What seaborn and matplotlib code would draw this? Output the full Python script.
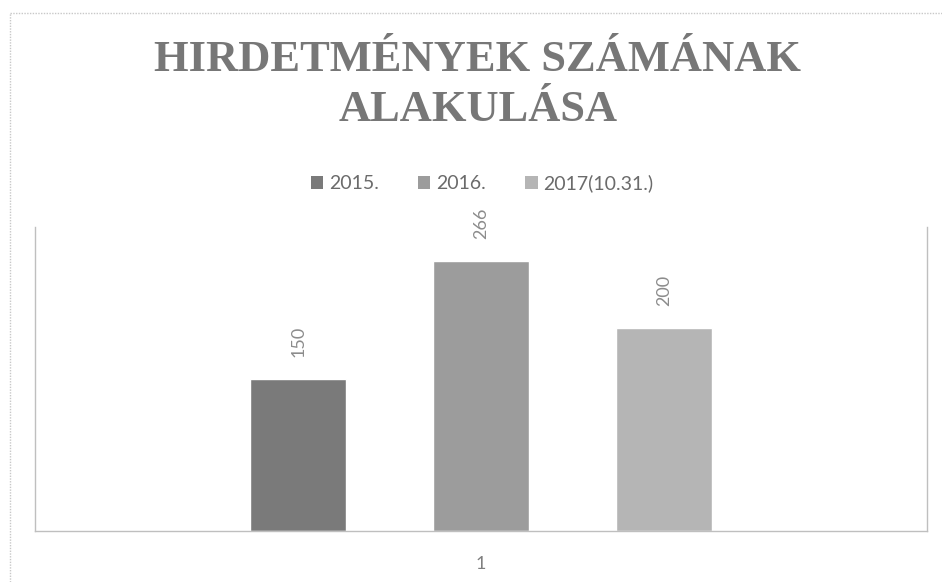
import matplotlib
matplotlib.use("Agg")
import matplotlib.pyplot as plt
import seaborn as sns
import pandas as pd
from matplotlib.lines import Line2D
from matplotlib.patches import Patch

categories = ["1"]
series = ["2015.", "2016.", "2017(10.31.)"]
values = [150, 266, 200]
colors = ["#7a7a7a", "#9c9c9c", "#b5b5b5"]
title_lines = ["HIRDETMÉNYEK SZÁMÁNAK", "ALAKULÁSA"]

sns.set_theme(style="white")
plt.rcParams["font.family"] = ["Lato", "DejaVu Sans"]

df = pd.DataFrame({"cat": categories * len(series), "series": series, "value": values})

fig = plt.figure(figsize=(9.42, 5.82), dpi=100)
ax = fig.add_axes([35/942, 51/582, 892/942, 304/582])

sns.barplot(data=df, x="cat", y="value", hue="series", palette=colors,
            width=0.615, gap=0.475, ax=ax, legend=False, saturation=1)

ax.set_ylim(0, 300)
ax.set_xlim(-0.5, 0.5)
ax.set_xlabel("")
ax.set_ylabel("")
ax.set_yticks([])
ax.tick_params(axis="x", length=0, pad=18, labelsize=13, labelcolor="#7f7f7f")

for side in ["left", "right", "bottom"]:
    ax.spines[side].set_visible(True)
    ax.spines[side].set_color("#bfbfbf")
    ax.spines[side].set_linestyle((0, (1, 1)))
    ax.spines[side].set_linewidth(1)
ax.spines["top"].set_visible(False)

for cont in ax.containers:
    ax.bar_label(cont, rotation=90, padding=16, fontsize=13, color="#8c8c8c")

handles = [Patch(facecolor=c, edgecolor="none") for c in colors]
fig.legend(handles, series, loc="center", bbox_to_anchor=(482/942, 1 - 183/582), ncol=3,
           frameon=False, fontsize=14, handlelength=0.65, handleheight=0.65,
           handletextpad=0.3, columnspacing=2.0, labelcolor="#6b6b6b")

fig.text(478/942, 1 - 60/582, title_lines[0], ha="center", va="center",
         fontsize=32, fontweight="bold", family=["Liberation Serif", "DejaVu Serif"],
         color="#777777")
fig.text(478/942, 1 - 110/582, title_lines[1], ha="center", va="center",
         fontsize=32, fontweight="bold", family=["Liberation Serif", "DejaVu Serif"],
         color="#777777")

fig.add_artist(Line2D([10/942, 10/942], [0, 1 - 13/582], transform=fig.transFigure,
                      color="#c8c8c8", lw=1, linestyle=(0, (1, 1))))
fig.add_artist(Line2D([10/942, 1], [1 - 13/582, 1 - 13/582], transform=fig.transFigure,
                      color="#c8c8c8", lw=1, linestyle=(0, (1, 1))))

fig.savefig("out.png", dpi=100)
